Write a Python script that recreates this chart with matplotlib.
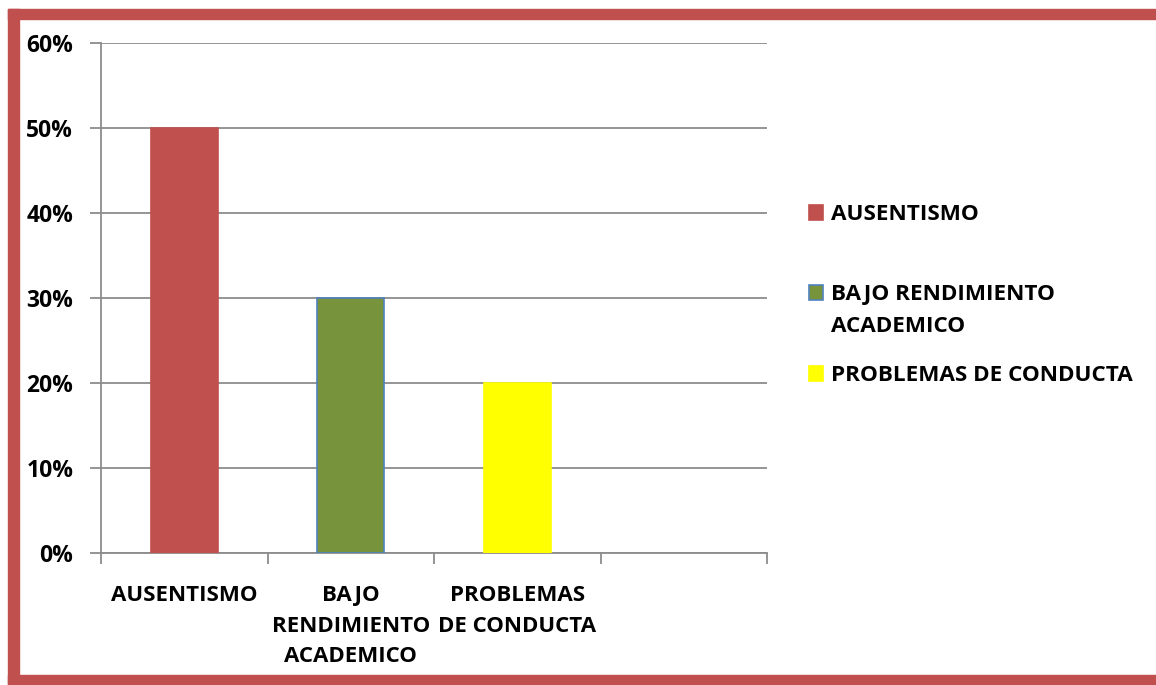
import matplotlib
matplotlib.use('Agg')
import matplotlib.pyplot as plt
from matplotlib.patches import Rectangle
from matplotlib.ticker import PercentFormatter

# data
categories = ['AUSENTISMO', 'BAJO\nRENDIMIENTO\nACADEMICO', 'PROBLEMAS\nDE CONDUCTA', '']
values = [0.50, 0.30, 0.20]
legend_labels = ['AUSENTISMO', 'BAJO RENDIMIENTO\nACADEMICO', 'PROBLEMAS DE CONDUCTA']
bar_colors = ['#C0504D', '#77933C', '#FFFF00']
edge_colors = ['#C0504D', '#4F81BD', '#FFFF00']
yticks = [0, 0.1, 0.2, 0.3, 0.4, 0.5, 0.6]

W, H = 1156, 685
fig = plt.figure(figsize=(W / 100, H / 100), dpi=100)
ax = fig.add_axes([101 / W, 1 - 553 / H, 666 / W, 510 / H])

x = list(range(len(categories)))
ax.bar(x[:len(values)], values, width=0.4, color=bar_colors,
       edgecolor=edge_colors, linewidth=1.2, zorder=3)

ax.set_xlim(-0.5, len(categories) - 0.5)
ax.set_ylim(0, 0.6)
ax.set_yticks(yticks)
ax.yaxis.set_major_formatter(PercentFormatter(1.0, decimals=0))
ax.grid(axis='y', color='#8C8C8C', linewidth=1.3, zorder=0)

# category labels on centers, tick marks on boundaries
ax.set_xticks(x)
ax.set_xticklabels(categories, family='Open Sans', fontweight='bold',
                   fontsize=16, linespacing=1.6)
ax.set_xticks([i - 0.5 for i in range(len(categories) + 1)], minor=True)
ax.tick_params(axis='x', which='major', length=0, pad=23)
ax.tick_params(axis='x', which='minor', length=8, color='#8C8C8C', width=1.3)
ax.tick_params(axis='y', length=8, color='#8C8C8C', width=1.3, pad=12)
for lab in ax.get_yticklabels():
    lab.set_family('Open Sans')
    lab.set_fontweight('bold')
    lab.set_fontsize(16.5)

for s in ['top', 'right']:
    ax.spines[s].set_visible(False)
for s in ['left', 'bottom']:
    ax.spines[s].set_color('#8C8C8C')
    ax.spines[s].set_linewidth(1.3)

# legend drawn by hand (Excel-style uneven spacing)
leg_y = [220, 300, 381]
for lab, fc, ec, yb in zip(legend_labels, bar_colors, edge_colors, leg_y):
    fig.patches.append(Rectangle((809 / W, 1 - yb / H), 14 / W, 15 / H,
                                 transform=fig.transFigure, facecolor=fc,
                                 edgecolor=ec, linewidth=1.2))
    fig.text(831 / W, 1 - (yb - 16) / H, lab, family='Open Sans',
             fontweight='bold', fontsize=16.2, va='top', ha='left',
             linespacing=1.7)

# red frame
red = '#C0504D'
fig.patches.append(Rectangle((8 / W, 1 - 19 / H), 1 - 8 / W, 10 / H,
                             transform=fig.transFigure, color=red))
fig.patches.append(Rectangle((8 / W, 1 - 684 / H), 11 / W, 675 / H,
                             transform=fig.transFigure, color=red))
fig.patches.append(Rectangle((8 / W, 0), 1, 10 / H,
                             transform=fig.transFigure, color=red))

fig.savefig('out.png', dpi=100)
